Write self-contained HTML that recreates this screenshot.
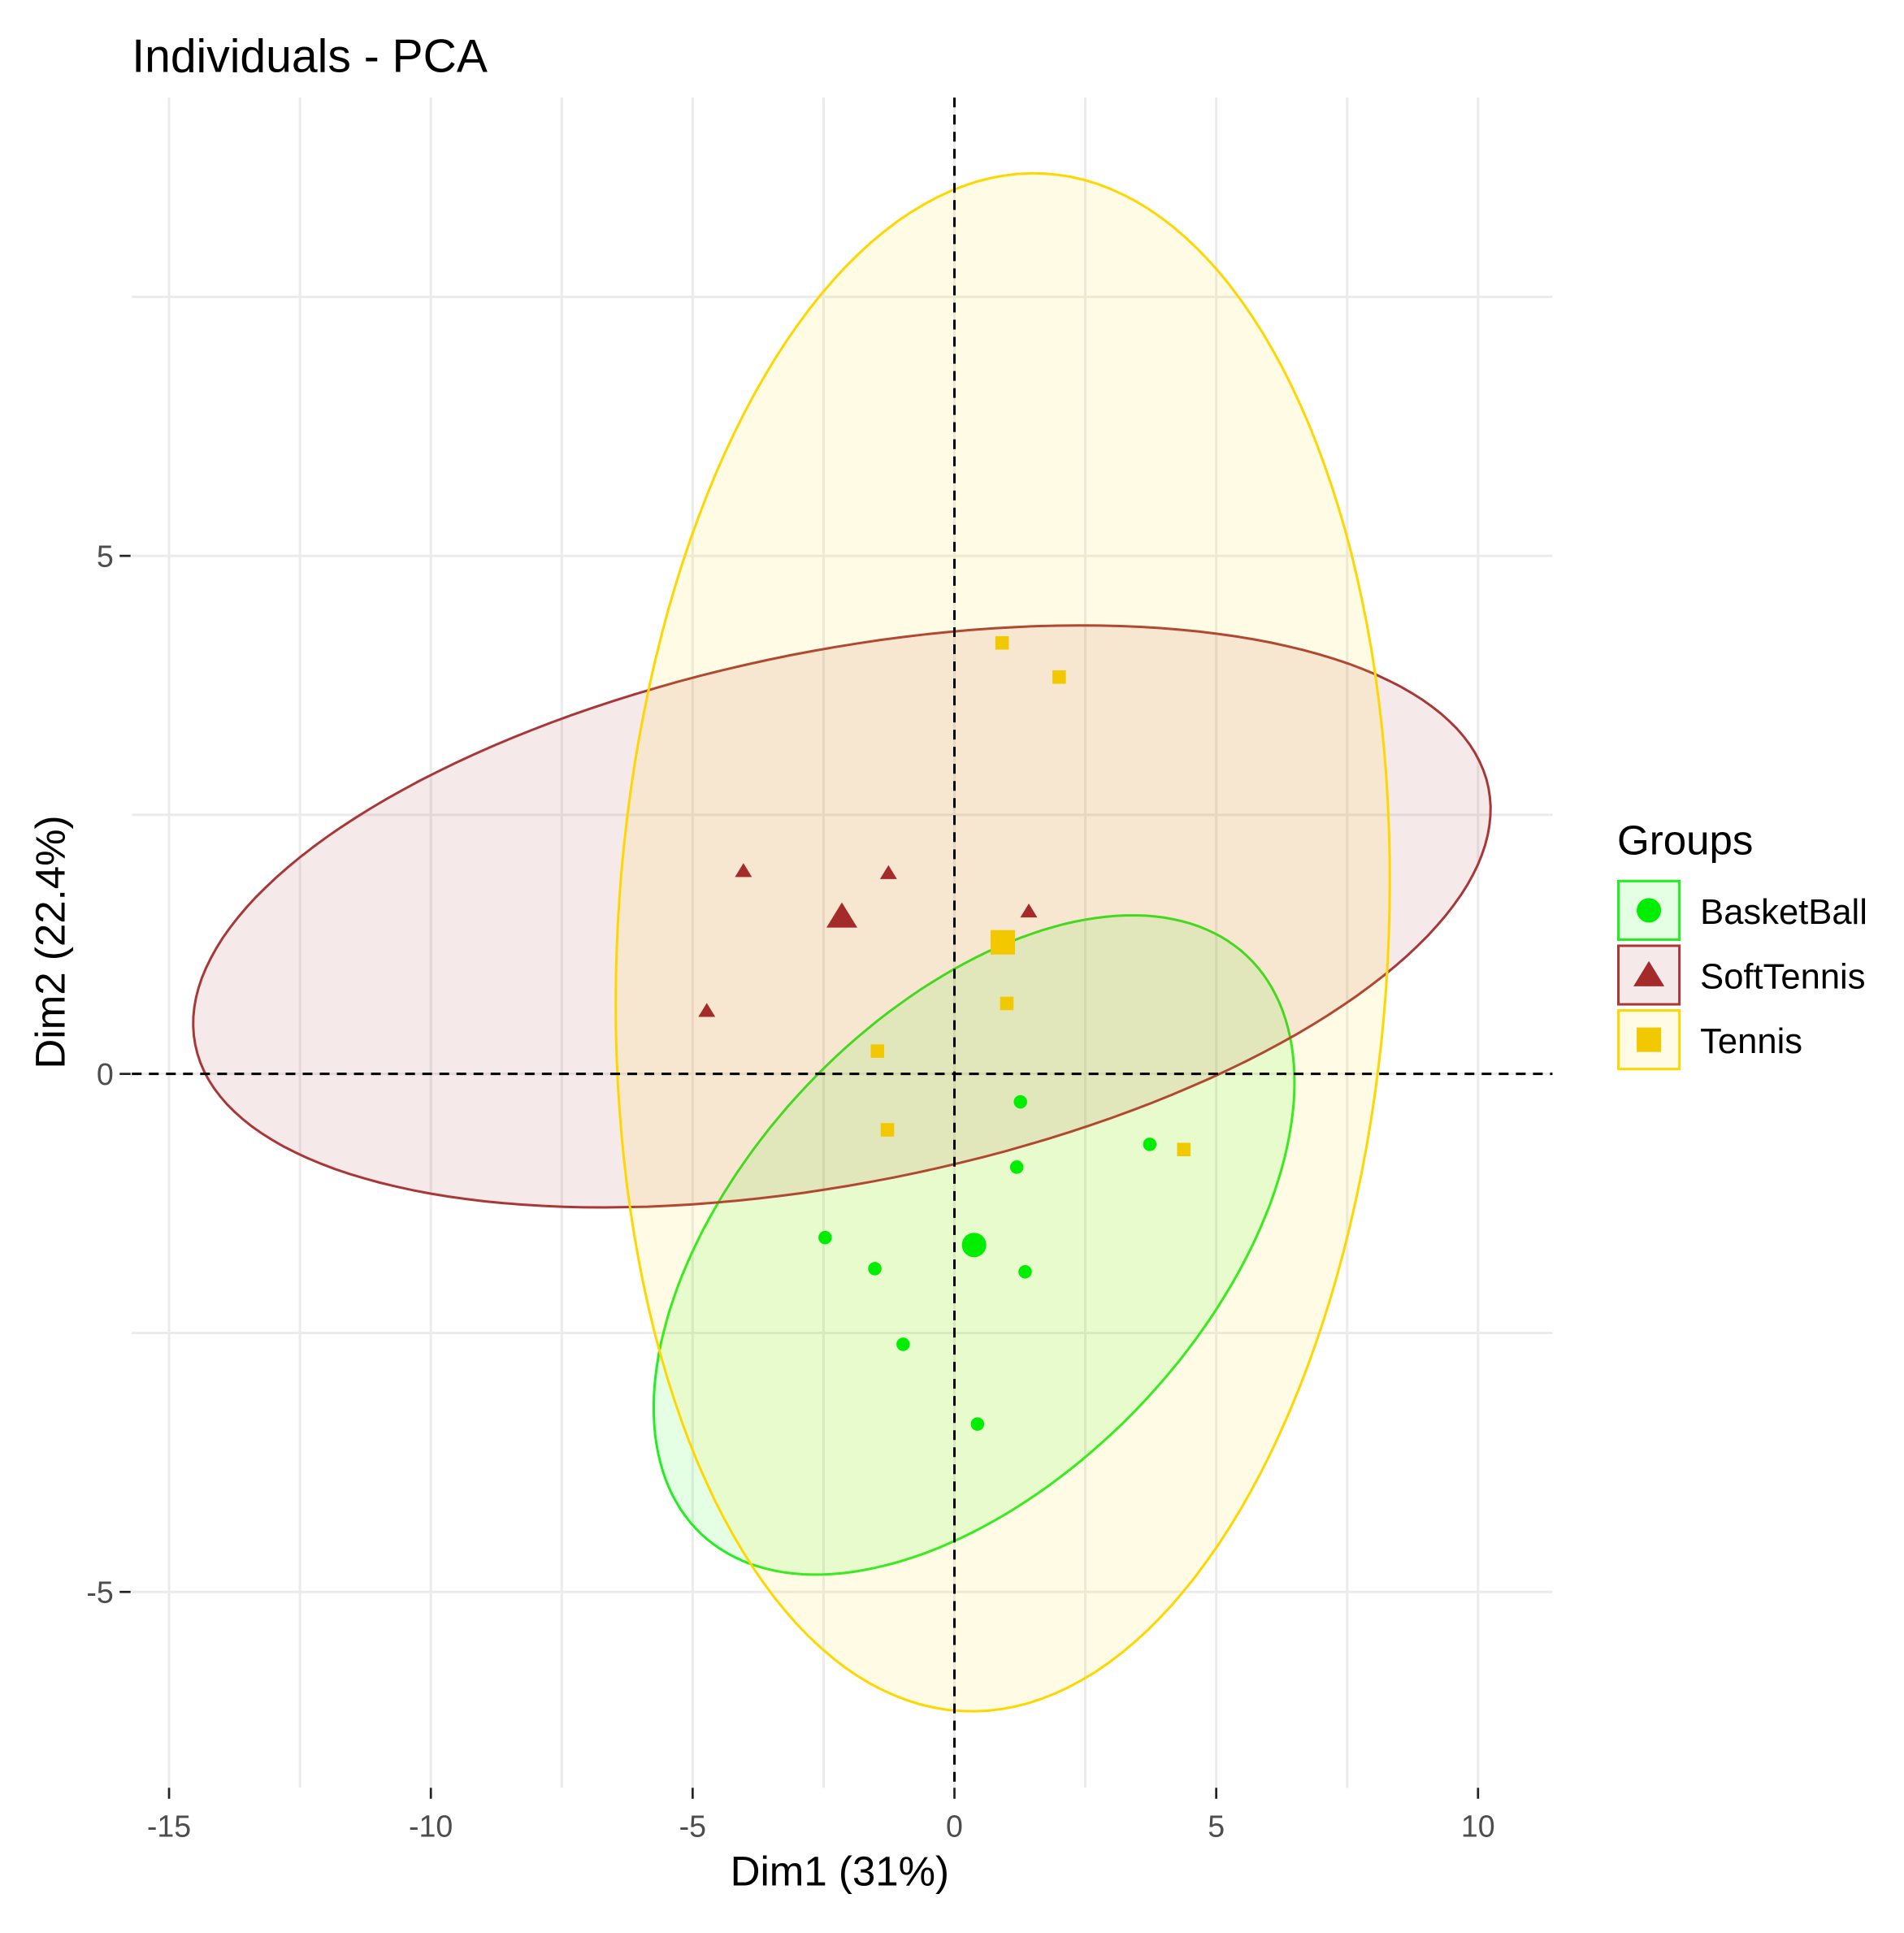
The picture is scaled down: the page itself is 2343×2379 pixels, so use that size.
<!DOCTYPE html>
<html><head><meta charset="utf-8"><style>
html,body{margin:0;padding:0;background:#fff;}
svg{display:block;font-family:"Liberation Sans",Arial,sans-serif;}
</style></head><body>
<svg id="chart" width="2343" height="2379" viewBox="0 0 1560 1584" xmlns="http://www.w3.org/2000/svg">
<rect x="0" y="0" width="1560" height="1584" fill="#fff"/>
<g id="grid"></g>
<g id="ellipses"></g>
<g id="refs"></g>
<g id="points"></g>
<g id="axes"></g>
<text x="108" y="59" font-size="38" fill="#000">Individuals - PCA</text>
<text x="688" y="1545" font-size="34" text-anchor="middle" fill="#000">Dim1 (31%)</text>
<text transform="translate(53,772) rotate(-90)" font-size="34" text-anchor="middle" fill="#000">Dim2 (22.4%)</text>
<g id="legend">
<text x="1325" y="700" font-size="34" fill="#000">Groups</text>
</g>
</svg>
<script>
const groups = ["BasketBall", "SoftTennis", "Tennis"];
const basketX = [1.26, 3.73, 1.19, -2.47, -1.52, 1.35, -0.98, 0.44];
const basketY = [-0.27, -0.68, -0.90, -1.58, -1.88, -1.91, -2.61, -3.38];
const softX = [-4.03, -1.26, -4.73, 1.42];
const softY = [1.96, 1.94, 0.61, 1.57];
const tennisX = [0.91, 2.00, 1.00, -1.47, -1.28, 4.38];
const tennisY = [4.16, 3.83, 0.68, 0.22, -0.54, -0.73];
// ellipse semi-axis vectors in data units [ux, uy, vx, vy]
const basketEllipse = [5.21, 2.79, 3.21, -1.53];
const softEllipse = [12.35, 1.24, 0.99, -2.52];
const tennisEllipse = [0.79, 7.42, 7.35, -0.20];
const xTicks = [-15, -10, -5, 0, 5, 10];
const yTicks = [-5, 0, 5];
const xMinor = [-12.5, -7.5, -2.5, 2.5, 7.5];
const yMinor = [-2.5, 2.5, 7.5];

const NS = "http://www.w3.org/2000/svg";
const L = 108, R = 1272, T = 80, B = 1465;
function sx(v){ return 782 + v * 42.9; }
function sy(v){ return 880 - v * 84.9; }
function mk(tag, attrs, parent){
  const e = document.createElementNS(NS, tag);
  for (const k in attrs) e.setAttribute(k, attrs[k]);
  parent.appendChild(e); return e;
}
const grid = document.getElementById('grid');
const axes = document.getElementById('axes');
xMinor.concat(xTicks).forEach(v => {
  const l = mk('line', {x1: sx(v), x2: sx(v), y1: T, y2: B, stroke: '#ebebeb', 'stroke-width': 2}, grid);
  
  
});
yMinor.concat(yTicks).forEach(v => {
  const l = mk('line', {x1: L, x2: R, y1: sy(v), y2: sy(v), stroke: '#ebebeb', 'stroke-width': 2}, grid);
  
  
});
xTicks.forEach(v => {
  const t = mk('line', {x1: sx(v), x2: sx(v), y1: B, y2: B + 9, stroke: '#222', 'stroke-width': 1.8}, axes);
  
  
  const tx = mk('text', {x: sx(v), y: B + 40, 'font-size': 25, 'text-anchor': 'middle', fill: '#4d4d4d'}, axes);
  tx.textContent = v;
  
  
});
yTicks.forEach(v => {
  const t = mk('line', {x1: L - 10, x2: L - 1, y1: sy(v), y2: sy(v), stroke: '#222', 'stroke-width': 1.8}, axes);
  
  
  const tx = mk('text', {x: L - 15, y: sy(v) + 9, 'font-size': 25, 'text-anchor': 'end', fill: '#4d4d4d'}, axes);
  tx.textContent = v;
  
  
});
function mean(a){ return a.reduce((s, v) => s + v, 0) / a.length; }
const series = [
  {name: 'basketball', xs: basketX, ys: basketY, el: basketEllipse, stroke: '#22ee22', fill: 'rgba(0,255,0,0.10)', col: '#00ee00', shape: 'circle'},
  {name: 'softtennis', xs: softX, ys: softY, el: softEllipse, stroke: '#a83838', fill: 'rgba(165,42,42,0.10)', col: '#a52a2a', shape: 'triangle'},
  {name: 'tennis', xs: tennisX, ys: tennisY, el: tennisEllipse, stroke: '#ffd700', fill: 'rgba(255,215,0,0.10)', col: '#f2c800', shape: 'square'}
];
const ell = document.getElementById('ellipses');
series.forEach(s => {
  const cx = mean(s.xs), cy = mean(s.ys);
  let d = '';
  for (let i = 0; i <= 180; i++) {
    const t = i / 180 * 2 * Math.PI;
    const x = cx + s.el[0] * Math.cos(t) + s.el[2] * Math.sin(t);
    const y = cy + s.el[1] * Math.cos(t) + s.el[3] * Math.sin(t);
    d += (i ? 'L' : 'M') + sx(x).toFixed(1) + ',' + sy(y).toFixed(1);
  }
  const p = mk('path', {d: d + 'Z', fill: s.fill, stroke: s.stroke, 'stroke-width': 2}, ell);
  
  
});
const refs = document.getElementById('refs');
const vr = mk('line', {x1: sx(0), x2: sx(0), y1: T, y2: B, stroke: '#000', 'stroke-width': 2, 'stroke-dasharray': '8,6'}, refs);


const hr = mk('line', {x1: L, x2: R, y1: sy(0), y2: sy(0), stroke: '#000', 'stroke-width': 2, 'stroke-dasharray': '8,6'}, refs);



function marker(shape, x, y, r, col, parent){
  if (shape === 'circle') return mk('circle', {cx: x, cy: y, r: r, fill: col}, parent);
  if (shape === 'square') return mk('rect', {x: x - r, y: y - r, width: 2 * r, height: 2 * r, fill: col}, parent);
  const h = r * 1.15;
  return mk('polygon', {points: `${x},${y - h} ${x - h * 1.1},${y + h * 0.8} ${x + h * 1.1},${y + h * 0.8}`, fill: col}, parent);
}
const pts = document.getElementById('points');
series.forEach(s => {
  s.xs.forEach((xv, i) => {
    const m = marker(s.shape, sx(xv), sy(s.ys[i]), 5.5, s.col, pts);
    
    
  });
  const m = marker(s.shape, sx(mean(s.xs)), sy(mean(s.ys)), 10, s.col, pts);
  
  
});
const leg = document.getElementById('legend');
series.forEach((s, i) => {
  const y0 = 722 + i * 53;
  const box = mk('rect', {x: 1326, y: y0, width: 50, height: 48, fill: s.fill, stroke: s.stroke, 'stroke-width': 2}, leg);
  
  
  const m = marker(s.shape, 1351, y0 + 24, 10, s.col, leg);
  
  
  const tx = mk('text', {x: 1393, y: y0 + 35, 'font-size': 29, fill: '#000'}, leg);
  tx.textContent = groups[i];
  
  
});
</script>
</body></html>
